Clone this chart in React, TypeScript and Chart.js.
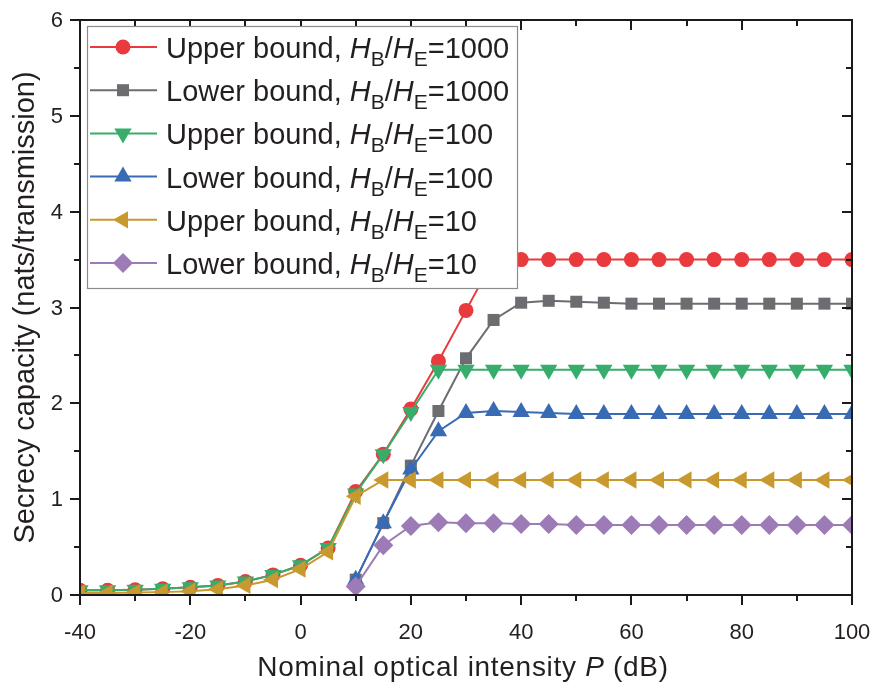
import React, { useEffect, useRef } from 'react';
import { Chart, registerables } from 'chart.js';

Chart.register(...registerables);

const FONT = '"Liberation Sans", Arial, Helvetica, sans-serif';
const TEXT = '#231f20';

const xValues = [-40, -35, -30, -25, -20, -15, -10, -5, 0, 5, 10, 15, 20, 25, 30, 35, 40, 45, 50, 55, 60, 65, 70, 75, 80, 85, 90, 95, 100];

const upper1000 = [0.05, 0.05, 0.055, 0.065, 0.08, 0.1, 0.14, 0.21, 0.31, 0.49, 1.08, 1.47, 1.94, 2.44, 2.97, 3.5, 3.5, 3.5, 3.5, 3.5, 3.5, 3.5, 3.5, 3.5, 3.5, 3.5, 3.5, 3.5, 3.5];
const lower1000 = [null, null, null, null, null, null, null, null, null, null, 0.16, 0.75, 1.35, 1.92, 2.47, 2.87, 3.05, 3.07, 3.06, 3.05, 3.04, 3.04, 3.04, 3.04, 3.04, 3.04, 3.04, 3.04, 3.04];
const upper100 = [0.05, 0.05, 0.055, 0.065, 0.08, 0.1, 0.14, 0.21, 0.31, 0.49, 1.06, 1.47, 1.91, 2.35, 2.35, 2.35, 2.35, 2.35, 2.35, 2.35, 2.35, 2.35, 2.35, 2.35, 2.35, 2.35, 2.35, 2.35, 2.35];
const lower100 = [null, null, null, null, null, null, null, null, null, null, 0.16, 0.75, 1.31, 1.71, 1.9, 1.92, 1.91, 1.9, 1.89, 1.89, 1.89, 1.89, 1.89, 1.89, 1.89, 1.89, 1.89, 1.89, 1.89];
const upper10 = [0.02, 0.02, 0.025, 0.03, 0.04, 0.06, 0.1, 0.16, 0.27, 0.45, 1.03, 1.2, 1.2, 1.2, 1.2, 1.2, 1.2, 1.2, 1.2, 1.2, 1.2, 1.2, 1.2, 1.2, 1.2, 1.2, 1.2, 1.2, 1.2];
const lower10 = [null, null, null, null, null, null, null, null, null, null, 0.09, 0.52, 0.72, 0.76, 0.75, 0.75, 0.74, 0.74, 0.73, 0.73, 0.73, 0.73, 0.73, 0.73, 0.73, 0.73, 0.73, 0.73, 0.73];

const xTickLabels = ['-40', '-20', '0', '20', '40', '60', '80', '100'];
const yTickLabels = ['0', '1', '2', '3', '4', '5', '6'];

const seriesLabels = ['Upper bound, ', 'Lower bound, ', 'Upper bound, ', 'Lower bound, ', 'Upper bound, ', 'Lower bound, '];
const ratioLabels = ['1000', '1000', '100', '100', '10', '10'];
const colors = ['#e93a3e', '#6c6d70', '#37ad6b', '#386bb4', '#c8992e', '#9c7bb7'];
const markerStyles = ['circle', 'rect', 'triangle', 'triangle', 'triangle', 'rectRot'];
const markerRotations = [0, 0, 180, 0, 270, 0];
const markerRadii = [7.5, 8.5, 10, 10, 10, 10];
const seriesData = [upper1000, lower1000, upper100, lower100, upper10, lower10];

const xTitle = 'Nominal optical intensity ';
const yTitle = 'Secrecy capacity (nats/transmission)';

function drawMarker(ctx: CanvasRenderingContext2D, style: string, x: number, y: number, r: number, rotation: number, color: string) {
  ctx.save();
  ctx.fillStyle = color;
  ctx.beginPath();
  if (style === 'circle') {
    ctx.arc(x, y, r, 0, Math.PI * 2);
  } else if (style === 'rect') {
    const s = Math.SQRT1_2 * r;
    ctx.rect(x - s, y - s, 2 * s, 2 * s);
  } else if (style === 'rectRot') {
    ctx.moveTo(x, y - r);
    ctx.lineTo(x + r, y);
    ctx.lineTo(x, y + r);
    ctx.lineTo(x - r, y);
    ctx.closePath();
  } else {
    let rad = (rotation * Math.PI) / 180;
    ctx.moveTo(x + Math.sin(rad) * r, y - Math.cos(rad) * r);
    rad += (2 * Math.PI) / 3;
    ctx.lineTo(x + Math.sin(rad) * r, y - Math.cos(rad) * r);
    rad += (2 * Math.PI) / 3;
    ctx.lineTo(x + Math.sin(rad) * r, y - Math.cos(rad) * r);
    ctx.closePath();
  }
  ctx.fill();
  ctx.restore();
}

type Part = { t: string; font: string; dy: number };

function drawParts(ctx: CanvasRenderingContext2D, parts: Part[], x: number, y: number) {
  let cx = x;
  for (const p of parts) {
    ctx.font = p.font;
    ctx.fillText(p.t, cx, y + p.dy);
    cx += ctx.measureText(p.t).width;
  }
  return cx - x;
}

function measureParts(ctx: CanvasRenderingContext2D, parts: Part[]) {
  let w = 0;
  for (const p of parts) {
    ctx.font = p.font;
    w += ctx.measureText(p.t).width;
  }
  return w;
}

const decorPlugin = {
  id: 'decor',
  afterDraw(chart: any) {
    const ctx: CanvasRenderingContext2D = chart.ctx;
    const { left, right, top, bottom } = chart.chartArea;
    const xs = chart.scales.x;
    const ys = chart.scales.y;
    ctx.save();
    // frame
    ctx.strokeStyle = '#1a1a1a';
    ctx.lineWidth = 2;
    ctx.strokeRect(left, top, right - left, bottom - top);
    ctx.beginPath();
    for (let v = -40; v <= 100; v += 10) {
      const px = Math.round(xs.getPixelForValue(v));
      const len = v % 20 === 0 ? 10 : 6;
      ctx.moveTo(px, bottom);
      ctx.lineTo(px, bottom + len);
      ctx.moveTo(px, top);
      ctx.lineTo(px, top + len);
    }
    for (let i = 0; i <= 12; i++) {
      const v = i * 0.5;
      const py = Math.round(ys.getPixelForValue(v));
      const len = i % 2 === 0 ? 10 : 6;
      ctx.moveTo(left, py);
      ctx.lineTo(left - len, py);
      ctx.moveTo(right, py);
      ctx.lineTo(right - len, py);
    }
    ctx.stroke();

    // tick labels
    ctx.fillStyle = TEXT;
    ctx.font = `22px ${FONT}`;
    ctx.textAlign = 'center';
    ctx.textBaseline = 'middle';
    for (const lbl of xTickLabels) {
      ctx.fillText(lbl, xs.getPixelForValue(Number(lbl)), bottom + 38);
    }
    ctx.textAlign = 'right';
    for (const lbl of yTickLabels) {
      ctx.fillText(lbl, left - 17, ys.getPixelForValue(Number(lbl)) + 1);
    }

    // legend
    const bx = left + 7;
    const by = top + 6;
    const bw = 430;
    const bh = 262;
    ctx.fillStyle = '#ffffff';
    ctx.fillRect(bx, by, bw, bh);
    ctx.strokeStyle = '#8c8c8c';
    ctx.lineWidth = 1.2;
    ctx.strokeRect(bx + 0.5, by + 0.5, bw, bh);
    const main = `29px ${FONT}`;
    const ital = `italic 29px ${FONT}`;
    const sub = `21px ${FONT}`;
    ctx.textAlign = 'left';
    ctx.textBaseline = 'alphabetic';
    for (let i = 0; i < 6; i++) {
      const cy = by + 21 + i * 43.2;
      ctx.strokeStyle = colors[i];
      ctx.lineWidth = 2;
      ctx.beginPath();
      ctx.moveTo(bx + 3, cy);
      ctx.lineTo(bx + 70, cy);
      ctx.stroke();
      drawMarker(ctx, markerStyles[i], bx + 36, cy, markerRadii[i], markerRotations[i], colors[i]);
      ctx.fillStyle = TEXT;
      drawParts(ctx, [
        { t: seriesLabels[i], font: main, dy: 0 },
        { t: 'H', font: ital, dy: 0 },
        { t: 'B', font: sub, dy: 8 },
        { t: '/', font: main, dy: 0 },
        { t: 'H', font: ital, dy: 0 },
        { t: 'E', font: sub, dy: 8 },
        { t: '=' + ratioLabels[i], font: main, dy: 0 },
      ], bx + 79, cy + 11);
    }

    // x title
    ctx.fillStyle = TEXT;
    (ctx as any).letterSpacing = '0.7px';
    const xParts: Part[] = [
      { t: xTitle, font: `28px ${FONT}`, dy: 0 },
      { t: 'P', font: `italic 28px ${FONT}`, dy: 0 },
      { t: ' (dB)', font: `28px ${FONT}`, dy: 0 },
    ];
    const w = measureParts(ctx, xParts);
    drawParts(ctx, xParts, (left + right) / 2 - 3 - w / 2, 676);
    (ctx as any).letterSpacing = '0px';

    // y title
    ctx.translate(34, (top + bottom) / 2);
    ctx.rotate(-Math.PI / 2);
    ctx.font = `29px ${FONT}`;
    ctx.textAlign = 'center';
    ctx.textBaseline = 'alphabetic';
    ctx.fillText(yTitle, 0, 0);
    ctx.restore();
  },
};

export default function App() {
  const ref = useRef<HTMLCanvasElement | null>(null);
  useEffect(() => {
    if (!ref.current) return;
    const datasets = seriesData.map((arr, i) => ({
      label: seriesLabels[i] + ratioLabels[i],
      data: xValues.map((x, j) => ({ x, y: arr[j] })),
      borderColor: colors[i],
      backgroundColor: colors[i],
      borderWidth: 2,
      pointStyle: markerStyles[i],
      pointRotation: markerRotations[i],
      pointRadius: markerRadii[i],
      pointBorderWidth: 0,
      pointBackgroundColor: colors[i],
      pointBorderColor: colors[i],
      tension: 0,
      order: 6 - i,
    }));
    const chart = new Chart(ref.current, {
      type: 'line',
      data: { datasets },
      options: {
        animation: false,
        responsive: false,
        devicePixelRatio: 1,
        layout: { padding: { top: 20, right: 26, left: 0, bottom: 0 } },
        plugins: { legend: { display: false }, tooltip: { enabled: false } },
        scales: {
          x: {
            type: 'linear',
            min: -40,
            max: 100,
            ticks: { display: false, stepSize: 20 },
            grid: { display: false, drawTicks: false },
            border: { display: false },
            afterFit: (s: any) => { s.height = 91; },
          },
          y: {
            min: 0,
            max: 6,
            ticks: { display: false, stepSize: 1 },
            grid: { display: false, drawTicks: false },
            border: { display: false },
            afterFit: (s: any) => { s.width = 80; },
          },
        },
      },
      plugins: [decorPlugin],
    } as any);
    return () => chart.destroy();
  }, []);
  return (
    <div style={{ position: 'absolute', left: 0, top: 0, width: 878, height: 686, background: '#fff' }}>
      <canvas ref={ref} width={878} height={686} style={{ display: 'block' }} />
    </div>
  );
}
